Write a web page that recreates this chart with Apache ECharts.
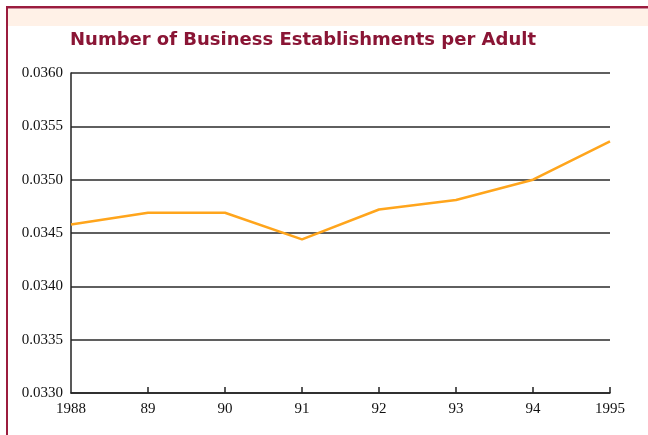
<!DOCTYPE html>
<html>
<head>
<meta charset="utf-8">
<style>
  html, body { margin: 0; padding: 0; background: #ffffff; }
  #chart { width: 648px; height: 435px; }
</style>
<script src="https://cdn.jsdelivr.net/npm/echarts@6/dist/echarts.min.js"></script>
</head>
<body>
<div id="chart"></div>
<script>
// Years shown on the horizontal axis
var years = ['1988', '89', '90', '91', '92', '93', '94', '1995'];
// Business establishments per adult, by year
var perAdult = [0.03458, 0.03469, 0.03469, 0.03444, 0.03472, 0.03481, 0.03500, 0.03536];
// Vertical scale
var yMin = 0.0330, yMax = 0.0360, yStep = 0.0005;

var chart = echarts.init(document.getElementById('chart'), null, { renderer: 'canvas' });

var frameColor = '#9b1c3e';
var labelFont = '"Liberation Serif", "DejaVu Serif", serif';

chart.setOption({
  animation: false,
  backgroundColor: '#ffffff',
  title: {
    text: 'Number of Business Establishments per Adult',
    left: 65,
    top: 26,
    textStyle: {
      color: '#8a1535',
      fontFamily: '"DejaVu Sans", sans-serif',
      fontWeight: 'bold',
      fontSize: 18
    }
  },
  graphic: [
    { type: 'rect', shape: { x: 8, y: 9, width: 640, height: 17 }, style: { fill: '#fff1e7' }, silent: true },
    { type: 'rect', shape: { x: 6, y: 6, width: 642, height: 2.5 }, style: { fill: frameColor }, silent: true },
    { type: 'rect', shape: { x: 6, y: 6, width: 2, height: 429 }, style: { fill: frameColor }, silent: true }
  ],
  grid: { left: 71, right: 38, top: 73, bottom: 42, containLabel: false },
  xAxis: {
    type: 'category',
    data: years,
    boundaryGap: false,
    axisLine: { show: true, lineStyle: { color: '#222', width: 1.5 } },
    axisTick: {
      show: true, inside: true, length: 6,
      lineStyle: { color: '#222', width: 1.5 },
      interval: function (i) { return i > 0; }
    },
    axisLabel: {
      color: '#111', fontFamily: labelFont, fontSize: 15, margin: 9
    },
    splitLine: { show: false }
  },
  yAxis: {
    type: 'value',
    min: yMin,
    max: yMax,
    interval: yStep,
    axisLine: { show: true, lineStyle: { color: '#222', width: 1.5 } },
    axisTick: { show: false },
    axisLabel: {
      color: '#111', fontFamily: labelFont, fontSize: 15, margin: 8,
      formatter: function (v) { return v.toFixed(4); }
    },
    splitLine: { show: true, lineStyle: { color: '#2a2a2a', width: 1.5 } }
  },
  series: [{
    type: 'line',
    data: perAdult,
    symbol: 'none',
    lineStyle: { color: '#ffa51c', width: 2.5 },
    z: 3
  }]
});
</script>
</body>
</html>
